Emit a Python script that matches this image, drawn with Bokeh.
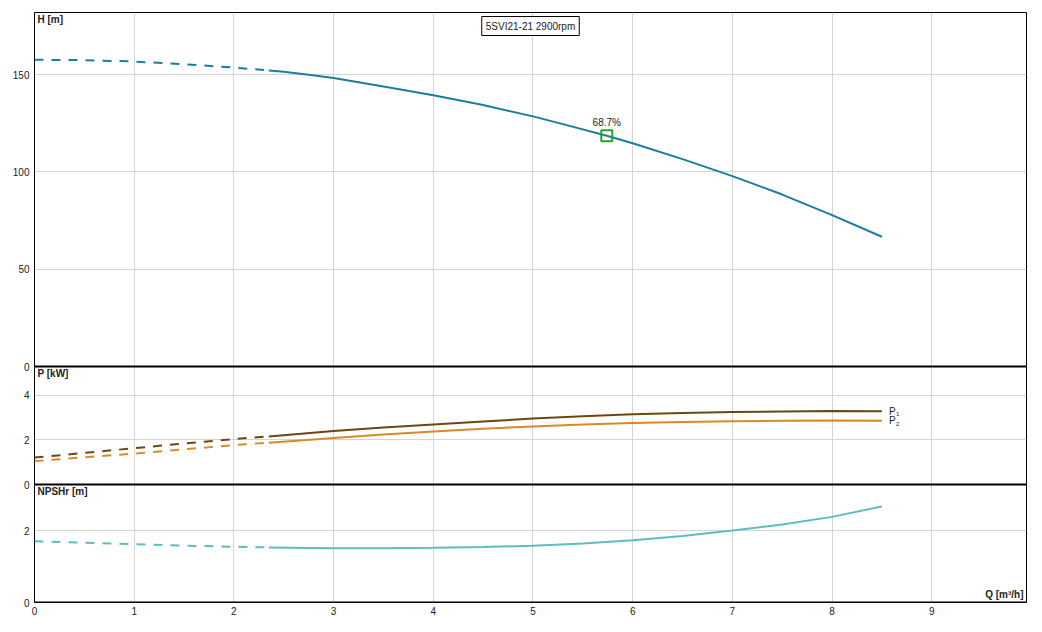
from bokeh.plotting import figure
from bokeh.models import (Range1d, FixedTicker, Label, Grid, Span, LinearAxis)
from bokeh.embed import file_html
from bokeh.resources import INLINE

# ---- data ----
q_h_dash = [0.0, 0.5, 1.0, 1.5, 2.0, 2.35]
h_dash = [157.7, 157.5, 156.8, 155.4, 153.7, 152.2]
q_h = [2.35, 2.5, 2.75, 3.0, 3.5, 4.0, 4.5, 5.0, 5.3, 5.74, 6.0, 6.5, 7.0, 7.5, 8.0, 8.5]
h = [152.2, 151.5, 150.0, 148.3, 144.0, 139.5, 134.4, 128.6, 124.6, 118.6, 114.8,
     106.6, 97.9, 88.4, 77.8, 66.7]

q_p_dash = [0.0, 0.5, 1.0, 1.5, 2.0, 2.35]
p1_dash = [1.21, 1.42, 1.63, 1.84, 2.04, 2.16]
p2_dash = [1.05, 1.22, 1.39, 1.58, 1.77, 1.88]
q_p = [2.35, 3.0, 3.5, 4.0, 4.5, 5.0, 5.5, 6.0, 6.5, 7.0, 7.5, 8.0, 8.5]
p1 = [2.16, 2.40, 2.56, 2.70, 2.83, 2.96, 3.06, 3.15, 3.21, 3.26, 3.28, 3.30, 3.29]
p2 = [1.88, 2.09, 2.25, 2.38, 2.50, 2.61, 2.70, 2.76, 2.81, 2.84, 2.86, 2.87, 2.86]

q_n_dash = [0.0, 0.5, 1.0, 1.5, 2.0, 2.35]
n_dash = [1.70, 1.66, 1.62, 1.58, 1.55, 1.53]
q_n = [2.35, 3.0, 3.5, 4.0, 4.5, 5.0, 5.5, 6.0, 6.5, 7.0, 7.5, 8.0, 8.5]
npsh = [1.53, 1.51, 1.51, 1.52, 1.54, 1.58, 1.64, 1.73, 1.85, 2.00, 2.17, 2.38, 2.67]

bep_q = [5.74]
bep_h = [118.6]
bep_label = "68.7%"
title_text = "5SVI21-21 2900rpm"

x_ticks = [0, 1, 2, 3, 4, 5, 6, 7, 8, 9]
h_ticks = [0, 50, 100, 150]
p_ticks = [0, 2, 4]
n_ticks = [0, 2]
x_max = 9.95
h_max = 182.0
p_max = 5.3
n_max = 3.28

# ---- layout constants (pixels) ----
PX_H, PX_P, PX_N = 354, 118, 118

C_H = "#1B7E9E"
C_P1 = "#6B4716"
C_P2 = "#D88A28"
C_N = "#5EBDBF"
C_TXT = "#222222"
FONT = "Liberation Sans"
DASH = "9 8"

# each panel's range stretched over the full frame height
h_unit = h_max / PX_H
p_unit = p_max / PX_P
n_unit = n_max / PX_N
h_range = Range1d(-(PX_P + PX_N) * h_unit, h_max)
p_range = Range1d(-PX_N * p_unit, p_max + PX_H * p_unit)
n_range = Range1d(0, n_max + (PX_H + PX_P) * n_unit)


def to_h(v, rng):
    """position of a value of another panel's range, expressed on the H range"""
    frac = (v - rng.start) / (rng.end - rng.start)
    return h_range.start + frac * (h_range.end - h_range.start)


p = figure(width=1040, height=630, x_range=Range1d(0, x_max), y_range=h_range,
           output_backend="svg", toolbar_location=None, y_axis_location=None,
           min_border_left=34, min_border_right=14, min_border_top=12,
           min_border_bottom=28)
p.extra_y_ranges = {"p": p_range, "n": n_range}
p.outline_line_color = "black"
p.outline_line_width = 1
p.background_fill_color = "white"
p.border_fill_color = "white"

# left axis carrying the tick labels of all three panels
tick_pos = []
tick_txt = {}
for ticks, rng in ((h_ticks, h_range), (p_ticks, p_range), (n_ticks, n_range)):
    for t in ticks:
        pos = round(to_h(t, rng), 6)
        tick_pos.append(pos)
        tick_txt[pos] = str(t)
yax = LinearAxis(ticker=FixedTicker(ticks=tick_pos), major_label_overrides=tick_txt)
p.add_layout(yax, "left")

for ax in (p.xaxis[0], yax):
    ax.axis_line_color = None
    ax.major_tick_line_color = None
    ax.minor_tick_line_color = None
    ax.major_tick_out = 0
    ax.major_tick_in = 0
    ax.minor_tick_out = 0
    ax.major_label_text_font = FONT
    ax.major_label_text_font_size = "10px"
    ax.major_label_text_color = C_TXT
p.xaxis.ticker = FixedTicker(ticks=x_ticks)
p.xaxis.major_label_standoff = 4
yax.major_label_standoff = 5

# grids
GRID = "#D4D4D4"
p.xgrid.ticker = FixedTicker(ticks=x_ticks)
p.xgrid.grid_line_color = GRID
p.ygrid.ticker = FixedTicker(ticks=h_ticks)
p.ygrid.grid_line_color = GRID
p.add_layout(Grid(dimension=1, ticker=FixedTicker(ticks=p_ticks), y_range_name="p",
                  grid_line_color=GRID))
p.add_layout(Grid(dimension=1, ticker=FixedTicker(ticks=n_ticks), y_range_name="n",
                  grid_line_color=GRID))

# panel separators
p.add_layout(Span(location=0, dimension="width", line_color="black", line_width=2))
p.add_layout(Span(location=0, dimension="width", y_range_name="p",
                  line_color="black", line_width=2))
p.add_layout(Span(location=0, dimension="width", y_range_name="n",
                  line_color="black", line_width=2))

# head curve
p.line(q_h_dash, h_dash, line_color=C_H, line_width=2, line_dash=DASH)
p.line(q_h, h, line_color=C_H, line_width=2)
p.scatter(bep_q, bep_h, marker="square", size=11, fill_color=None,
          line_color="#1FA52A", line_width=2)
p.add_layout(Label(x=bep_q[0], y=bep_h[0], text=bep_label, text_font=FONT,
                   text_font_size="10px", text_color=C_TXT,
                   text_align="center", text_baseline="bottom", y_offset=8))

# power curves
p.line(q_p_dash, p1_dash, line_color=C_P1, line_width=2, line_dash=DASH, y_range_name="p")
p.line(q_p_dash, p2_dash, line_color=C_P2, line_width=2, line_dash=DASH, y_range_name="p")
p.line(q_p, p1, line_color=C_P1, line_width=2, y_range_name="p")
p.line(q_p, p2, line_color=C_P2, line_width=2, y_range_name="p")
for yy, sub in ((p1[-1], "1"), (p2[-1], "2")):
    p.add_layout(Label(x=q_p[-1], y=yy, y_range_name="p", text="P", text_font=FONT,
                       text_font_size="10px", text_color=C_TXT,
                       text_baseline="middle", x_offset=7, y_offset=0))
    p.add_layout(Label(x=q_p[-1], y=yy, y_range_name="p", text=sub, text_font=FONT,
                       text_font_size="6px", text_color=C_TXT,
                       text_baseline="middle", x_offset=14, y_offset=-3))

# NPSH curve
p.line(q_n_dash, n_dash, line_color=C_N, line_width=2, line_dash=DASH, y_range_name="n")
p.line(q_n, npsh, line_color=C_N, line_width=2, y_range_name="n")

# panel titles
for txt, yv, rname in (("H [m]", h_max, "default"), ("P [kW]", p_max, "p"),
                       ("NPSHr [m]", n_max, "n")):
    p.add_layout(Label(x=0, y=yv, y_range_name=rname, text=txt, text_font=FONT,
                       text_font_size="10px", text_font_style="bold", text_color=C_TXT,
                       text_baseline="top", x_offset=3, y_offset=-1))
p.add_layout(Label(x=x_max, y=0, y_range_name="n", text="Q [m³/h]", text_font=FONT,
                   text_font_size="10px", text_font_style="bold", text_color=C_TXT,
                   text_align="right", text_baseline="bottom", x_offset=-3, y_offset=3))

# title box
p.add_layout(Label(x=x_max / 2, y=h_max, text=title_text, text_font=FONT,
                   text_font_size="10px", text_color=C_TXT,
                   text_align="center", text_baseline="top", y_offset=-4,
                   border_line_color="black", border_line_width=1,
                   background_fill_color="white", padding=4))

open("out.html", "w").write(file_html(p, INLINE))
